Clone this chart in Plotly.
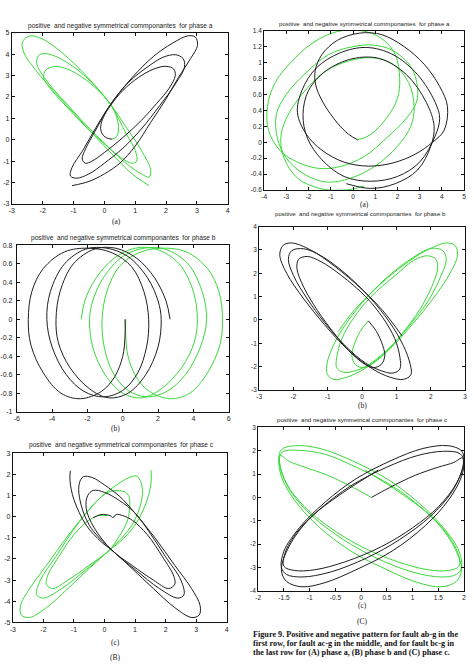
import plotly.graph_objects as go

W, H = 474, 664
BLACK = "#1e1e1e"
GREEN = "#3ad83a"

# ---------------- data ----------------
# Left column, top: phase a
Aa_pos_x = [0.25, 0.05, -0.08, -0.12, -0.03, 0.2, 0.6, 1.1, 1.6, 2.0, 2.25, 2.3, 2.1, 1.7, 1.2, 0.6, 0.0, -0.4, -0.62, -0.72, -0.6, -0.3, 0.2, 0.8, 1.4, 1.9, 2.3, 2.55, 2.6, 2.3, 1.8, 1.2, 0.6, 0.0, -0.5, -0.9, -1.1, -1.05, -0.7, -0.3, 0.2, 0.9, 1.6, 2.2, 2.7, 2.95, 3.02, 2.8, 2.4, 2.0, 1.5, 1.0, 0.5, 0.0, -0.5, -1.05]
Aa_pos_y = [0.02, 0.1, 0.3, 0.6, 1.05, 1.6, 2.3, 2.9, 3.3, 3.43, 3.3, 3.0, 2.4, 1.7, 0.9, 0.1, -0.6, -1.0, -1.1, -0.9, -0.4, 0.4, 1.65, 2.7, 3.4, 3.85, 3.97, 3.8, 3.4, 2.6, 1.6, 0.5, -0.4, -1.1, -1.6, -1.8, -1.7, -1.3, -0.5, 0.5, 1.65, 2.9, 3.9, 4.5, 4.85, 4.8, 4.4, 3.8, 2.9, 1.9, 0.8, -0.3, -1.1, -1.6, -1.95, -2.15]
Aa_neg_x = [0.25, 0.4, 0.46, 0.4, 0.2, -0.2, -0.7, -1.2, -1.6, -1.9, -1.97, -1.7, -1.2, -0.6, 0.0, 0.5, 0.9, 1.05, 1.0, 0.7, 0.2, -0.5, -1.2, -1.8, -2.1, -2.2, -1.9, -1.3, -0.6, 0.1, 0.7, 1.2, 1.45, 1.5, 1.2, 0.7, 0.2, -0.6, -1.4, -2.0, -2.4, -2.65, -2.62, -2.2, -1.6, -0.9, -0.2, 0.4, 0.9, 1.45]
Aa_neg_y = [0.02, 0.15, 0.5, 1.05, 1.65, 2.3, 2.9, 3.3, 3.42, 3.25, 2.9, 2.3, 1.5, 0.6, -0.2, -0.8, -1.1, -1.0, -0.5, 0.3, 1.65, 2.8, 3.6, 4.0, 3.97, 3.6, 2.8, 1.8, 0.7, -0.3, -1.1, -1.6, -1.75, -1.4, -0.5, 0.6, 1.65, 3.0, 4.1, 4.7, 4.85, 4.6, 4.1, 3.2, 2.2, 1.1, 0.0, -0.9, -1.6, -2.15]

# Right column, top: phase a
Ca_pos_x = [0.21, -0.2, -0.7, -1.35, -1.68, -1.7, -1.4, -0.7, 0.3, 1.3, 2.3, 3.2, 3.9, 4.25, 4.1, 3.58, 2.8, 1.8, 0.7, -0.4, -1.4, -2.1, -2.5, -2.3, -1.66, -0.6, 0.6, 1.8, 2.9, 3.7, 3.9, 3.7, 3.0, 2.0, 0.8, -0.4, -1.4, -2.05, -2.25, -2.0, -1.2, 0.0, 1.2, 2.4, 3.3, 3.65, 3.5, 2.9, 1.9, 0.8, -0.3]
Ca_pos_y = [0.03, 0.1, 0.24, 0.5, 0.72, 0.9, 1.1, 1.28, 1.37, 1.35, 1.2, 0.98, 0.7, 0.45, 0.15, 0.0, -0.15, -0.26, -0.3, -0.25, -0.1, 0.1, 0.37, 0.65, 0.93, 1.12, 1.19, 1.1, 0.85, 0.5, 0.3, 0.08, -0.25, -0.43, -0.49, -0.43, -0.22, 0.05, 0.35, 0.65, 0.9, 1.05, 1.05, 0.85, 0.5, 0.2, -0.05, -0.35, -0.52, -0.58, -0.52]
Ca_neg_x = [0.21, 0.76, 1.5, 2.0, 2.1, 1.9, 1.3, 0.4, -0.7, -1.8, -2.8, -3.5, -3.85, -3.8, -3.3, -2.5, -1.5, -0.5, 0.5, 1.5, 2.4, 2.85, 2.9, 2.6, 1.8, 0.9, 0.0, -1.1, -2.2, -3.0, -3.45, -3.4, -3.0, -2.2, -1.2, -0.1, 1.0, 2.0, 2.6, 2.75, 2.5, 1.8, 0.9, -0.2, -1.3, -2.3, -3.0, -3.25, -3.1, -2.5, -1.5, -0.3, 0.5]
Ca_neg_y = [0.03, 0.09, 0.3, 0.55, 0.8, 1.1, 1.3, 1.4, 1.39, 1.25, 1.0, 0.75, 0.45, 0.15, -0.1, -0.25, -0.33, -0.3, -0.18, 0.05, 0.3, 0.5, 0.7, 0.95, 1.15, 1.22, 1.2, 1.1, 0.85, 0.6, 0.35, 0.05, -0.2, -0.4, -0.5, -0.45, -0.3, -0.05, 0.2, 0.45, 0.75, 0.98, 1.06, 1.02, 0.88, 0.6, 0.3, 0.05, -0.2, -0.45, -0.58, -0.6, -0.55]

# Left column, middle: phase b
Ab_pos_x = [0.13, 0.13, 0.0, -0.45, -1.2, -2.4, -3.5, -4.5, -5.2, -5.35, -5.15, -4.5, -3.3, -1.9, -0.6, 0.5, 1.2, 1.47, 1.35, 0.85, 0.0, -1.1, -2.2, -3.2, -4.0, -4.3, -4.1, -3.3, -2.1, -0.9, 0.3, 1.4, 2.0, 2.18, 2.0, 1.3, 0.3, -0.8, -1.9, -3.0, -3.65, -3.78, -3.55, -2.8, -1.6, -0.4, 0.8, 1.8, 2.45, 2.68]
Ab_pos_y = [0.0, -0.18, -0.4, -0.62, -0.78, -0.86, -0.8, -0.58, -0.28, 0.0, 0.3, 0.55, 0.73, 0.77, 0.72, 0.57, 0.3, 0.0, -0.3, -0.58, -0.77, -0.84, -0.78, -0.6, -0.3, 0.0, 0.3, 0.6, 0.76, 0.77, 0.68, 0.45, 0.2, 0.0, -0.3, -0.6, -0.8, -0.85, -0.75, -0.52, -0.25, 0.0, 0.3, 0.6, 0.76, 0.77, 0.66, 0.45, 0.2, 0.0]
Ab_neg_x = [0.17, 0.17, 0.3, 0.75, 1.5, 2.7, 3.8, 4.8, 5.5, 5.65, 5.45, 4.8, 3.6, 2.2, 0.9, -0.2, -0.9, -1.17, -1.05, -0.55, 0.3, 1.4, 2.5, 3.55, 4.4, 4.75, 4.5, 3.7, 2.4, 1.2, 0.0, -1.1, -1.7, -1.88, -1.7, -1.0, 0.0, 1.1, 2.2, 3.35, 4.05, 4.23, 4.0, 3.2, 1.9, 0.7, -0.5, -1.5, -2.15, -2.35]
Ab_neg_y = [0.0, -0.18, -0.4, -0.62, -0.78, -0.86, -0.8, -0.58, -0.28, 0.0, 0.3, 0.55, 0.73, 0.77, 0.72, 0.57, 0.3, 0.0, -0.3, -0.58, -0.77, -0.84, -0.78, -0.6, -0.3, 0.0, 0.3, 0.6, 0.76, 0.77, 0.68, 0.45, 0.2, 0.0, -0.3, -0.6, -0.8, -0.85, -0.75, -0.52, -0.25, 0.0, 0.3, 0.6, 0.76, 0.77, 0.66, 0.45, 0.2, 0.0]

# Right column, middle: phase b
Cb_pos_x = [0.18, 0.42, 0.6, 0.66, 0.55, 0.32, 0.1, -0.3, -0.8, -1.3, -1.7, -1.9, -1.85, -1.6, -1.2, -0.6, 0.1, 0.6, 0.95, 1.1, 1.1, 0.9, 0.5, 0.1, -0.5, -1.1, -1.6, -2.0, -2.15, -2.05, -1.7, -1.2, -0.5, 0.2, 0.8, 1.2, 1.4, 1.42, 1.2, 0.8, 0.3, -0.4, -1.1, -1.7, -2.2, -2.4, -2.3, -2.05, -1.5, -0.8, 0.0, 0.6, 1.16]
Cb_pos_y = [-0.04, -0.5, -1.1, -1.55, -1.92, -2.05, -1.92, -1.45, -0.6, 0.4, 1.4, 2.2, 2.6, 2.72, 2.5, 1.9, 1.0, 0.1, -0.8, -1.6, -2.1, -2.28, -2.15, -1.85, -1.1, -0.1, 0.9, 1.9, 2.6, 2.97, 3.05, 2.75, 2.0, 1.0, -0.1, -1.1, -1.9, -2.35, -2.55, -2.45, -2.1, -1.3, -0.2, 0.9, 2.0, 2.8, 3.2, 3.3, 3.0, 2.3, 1.3, 0.4, -0.68]
Cb_neg_x = [0.18, -0.06, -0.24, -0.3, -0.19, 0.04, 0.26, 0.66, 1.16, 1.66, 2.02, 2.2, 2.15, 1.9, 1.5, 0.96, 0.26, -0.24, -0.59, -0.74, -0.74, -0.54, -0.14, 0.26, 0.86, 1.46, 1.96, 2.3, 2.45, 2.35, 2.02, 1.56, 0.86, 0.16, -0.44, -0.84, -1.02, -1.02, -0.84, -0.44, 0.06, 0.76, 1.46, 2.06, 2.56, 2.78, 2.7, 2.45, 1.9, 1.16, 0.36, -0.24, -0.7]
Cb_neg_y = [-0.04, -0.5, -1.1, -1.55, -1.92, -2.05, -1.92, -1.45, -0.6, 0.4, 1.4, 2.2, 2.6, 2.75, 2.55, 1.9, 1.0, 0.1, -0.8, -1.6, -2.05, -2.25, -2.15, -1.85, -1.1, -0.1, 0.9, 1.9, 2.6, 2.97, 3.07, 2.75, 2.0, 1.0, -0.1, -1.1, -1.85, -2.3, -2.55, -2.45, -2.1, -1.3, -0.2, 0.9, 2.0, 2.8, 3.2, 3.3, 3.0, 2.3, 1.3, 0.4, -0.5]

# Left column, bottom: phase c
Ac_pos_x = [-1.12, -1.13, -1.0, -0.6, -0.1, 0.23, 0.9, 1.6, 2.3, 2.86, 3.1, 3.13, 2.85, 2.3, 1.65, 0.98, 0.5, 0.0, -0.4, -0.69, -0.82, -0.82, -0.5, 0.23, 1.0, 1.8, 2.4, 2.6, 2.5, 2.0, 1.5, 0.98, 0.5, 0.0, -0.37, -0.55, -0.6, -0.35, 0.23, 0.9, 1.6, 2.1, 2.3, 2.27, 1.9, 1.4, 0.92, 0.6, 0.38, 0.28, 0.18, -0.11, -0.37]
Ac_pos_y = [2.17, 1.7, 0.8, -0.4, -1.2, -1.57, -2.45, -3.4, -4.3, -4.77, -4.65, -4.2, -3.4, -2.3, -1.0, 0.2, 0.95, 1.5, 1.85, 1.89, 1.6, 0.9, -0.4, -1.57, -2.5, -3.4, -3.85, -3.7, -3.0, -1.9, -0.8, 0.2, 0.75, 1.15, 1.24, 1.0, 0.4, -0.5, -1.57, -2.3, -3.0, -3.4, -3.2, -2.82, -1.9, -0.85, -0.18, 0.05, 0.1, -0.04, 0.05, 0.1, -0.05]
Ac_neg_x = [1.52, 1.53, 1.4, 1.0, 0.5, 0.17, -0.5, -1.2, -1.9, -2.46, -2.72, -2.75, -2.45, -1.9, -1.25, -0.58, -0.1, 0.4, 0.8, 1.05, 1.2, 1.23, 0.9, 0.17, -0.6, -1.4, -2.0, -2.22, -2.1, -1.6, -1.1, -0.58, -0.2, 0.02, 0.28, 0.67, 0.8, 0.83, 0.75, 0.45, 0.17, -0.5, -1.2, -1.7, -1.9, -1.87, -1.5, -1.0, -0.52, -0.2, 0.1]
Ac_neg_y = [2.2, 1.7, 0.8, -0.4, -1.2, -1.57, -2.45, -3.4, -4.3, -4.77, -4.65, -4.2, -3.4, -2.3, -1.0, 0.2, 0.95, 1.5, 1.85, 1.92, 1.6, 0.9, -0.4, -1.57, -2.5, -3.4, -3.85, -3.7, -3.0, -1.9, -0.8, 0.2, 0.8, 1.08, 1.22, 1.17, 0.95, 0.6, -0.2, -1.0, -1.57, -2.3, -3.0, -3.4, -3.2, -2.82, -1.9, -0.85, -0.18, 0.05, 0.05]

# Right column, bottom: phase c
Cc_pos_x = [0.2, 0.55, 1.05, 1.5, 1.8, 1.97, 1.98, 1.85, 1.5, 1.0, 0.4, -0.3, -0.9, -1.3, -1.5, -1.48, -1.25, -0.8, -0.2, 0.5, 1.1, 1.6, 1.9, 1.99, 1.95, 1.75, 1.35, 0.75, 0.1, -0.6, -1.15, -1.45, -1.55, -1.5, -1.2, -0.7, -0.1, 0.6, 1.2, 1.69, 1.95, 2.0, 1.95, 1.7, 1.25, 0.6, -0.1, -0.7, -1.15, -1.45, -1.55, -1.4, -1.0, -0.41, 0.33]
Cc_pos_y = [0.0, 0.42, 0.95, 1.3, 1.5, 1.7, 1.35, 0.6, -0.4, -1.3, -2.1, -2.75, -3.1, -3.13, -2.95, -2.4, -1.5, -0.5, 0.5, 1.3, 1.8, 1.98, 1.9, 1.65, 1.1, 0.2, -0.8, -1.8, -2.6, -3.2, -3.41, -3.3, -3.0, -2.3, -1.3, -0.2, 0.8, 1.6, 2.1, 2.22, 2.0, 1.6, 0.9, -0.1, -1.2, -2.3, -3.1, -3.65, -3.83, -3.6, -3.1, -2.1, -0.9, 0.12, 1.17]
Cc_neg_x = [0.2, -0.15, -0.65, -1.1, -1.4, -1.57, -1.58, -1.45, -1.1, -0.6, 0.0, 0.7, 1.3, 1.7, 1.9, 1.88, 1.65, 1.2, 0.6, -0.1, -0.7, -1.2, -1.5, -1.59, -1.55, -1.35, -0.95, -0.35, 0.3, 1.0, 1.55, 1.85, 1.95, 1.9, 1.6, 1.1, 0.5, -0.2, -0.8, -1.29, -1.55, -1.6, -1.55, -1.3, -0.85, -0.2, 0.5, 1.1, 1.55, 1.85, 1.95, 1.8, 1.4, 0.81, 0.07]
Cc_neg_y = [0.0, 0.42, 0.95, 1.3, 1.55, 1.8, 1.45, 0.6, -0.4, -1.3, -2.1, -2.75, -3.1, -3.13, -2.95, -2.4, -1.5, -0.5, 0.5, 1.3, 1.85, 2.02, 1.98, 1.75, 1.1, 0.2, -0.8, -1.8, -2.6, -3.2, -3.41, -3.3, -3.0, -2.3, -1.3, -0.2, 0.8, 1.6, 2.1, 2.22, 2.05, 1.65, 0.9, -0.1, -1.2, -2.3, -3.1, -3.65, -3.83, -3.6, -3.1, -2.1, -0.9, 0.12, 1.17]

# tick values
ticks_Aa_x = [-3, -2, -1, 0, 1, 2, 3, 4]
ticks_Aa_y = [-3, -2, -1, 0, 1, 2, 3, 4, 5]
ticks_Ca_x = [-4, -3, -2, -1, 0, 1, 2, 3, 4, 5]
ticks_Ca_y = [-0.6, -0.4, -0.2, 0, 0.2, 0.4, 0.6, 0.8, 1, 1.2, 1.4]
ticks_Ab_x = [-6, -4, -2, 0, 2, 4, 6]
ticks_Ab_y = [-1, -0.8, -0.6, -0.4, -0.2, 0, 0.2, 0.4, 0.6, 0.8]
ticks_Cb_x = [-3, -2, -1, 0, 1, 2, 3]
ticks_Cb_y = [-3, -2, -1, 0, 1, 2, 3, 4]
ticks_Ac_x = [-3, -2, -1, 0, 1, 2, 3, 4]
ticks_Ac_y = [-5, -4, -3, -2, -1, 0, 1, 2, 3]
ticks_Cc_x = [-2, -1.5, -1, -0.5, 0, 0.5, 1, 1.5, 2]
ticks_Cc_y = [-4, -3, -2, -1, 0, 1, 2, 3]

title_base = "positive\u00a0 and negative symmetrical commponantes\u00a0 for phase "

panels = [
    # box = (left, right, top, bottom) in pixels
    dict(box=(7, 226, 29, 202), xr=[-3, 4], yr=[-3, 5], xt=ticks_Aa_x, yt=ticks_Aa_y,
         pos=(Aa_pos_x, Aa_pos_y), neg=(Aa_neg_x, Aa_neg_y), ph="a", tp=(117, 22.5), tfs=6.6, fs=7,
         lab="(a)", lp=(113, 220), ystand=0),
    dict(box=(263, 466, 27, 188), xr=[-4, 5], yr=[-0.6, 1.4], xt=ticks_Ca_x, yt=ticks_Ca_y,
         pos=(Ca_pos_x, Ca_pos_y), neg=(Ca_neg_x, Ca_neg_y), ph="a", tp=(365, 19.5), tfs=6.1, fs=6.5,
         lab="(a)", lp=(365, 202.5), ystand=0),
    dict(box=(12, 227, 244, 412), xr=[-6, 6], yr=[-1, 0.8], xt=ticks_Ab_x, yt=ticks_Ab_y,
         pos=(Ab_pos_x, Ab_pos_y), neg=(Ab_neg_x, Ab_neg_y), ph="b", tp=(120, 236.5), tfs=6.6, fs=7,
         lab="(b)", lp=(112, 429), ystand=2),
    dict(box=(258, 467, 225, 390), xr=[-3, 3], yr=[-3, 4], xt=ticks_Cb_x, yt=ticks_Cb_y,
         pos=(Cb_pos_x, Cb_pos_y), neg=(Cb_neg_x, Cb_neg_y), ph="b", tp=(361, 211.5), tfs=6.1, fs=6.5,
         lab="(b)", lp=(363, 406), ystand=0),
    dict(box=(8, 225, 454, 625), xr=[-3, 4], yr=[-5, 3], xt=ticks_Ac_x, yt=ticks_Ac_y,
         pos=(Ac_pos_x, Ac_pos_y), neg=(Ac_neg_x, Ac_neg_y), ph="c", tp=(118.5, 446), tfs=6.6, fs=7,
         lab="(c)", lp=(112, 645.5), ystand=0),
    dict(box=(257, 466, 428, 593), xr=[-2, 2], yr=[-4, 3], xt=ticks_Cc_x, yt=ticks_Cc_y,
         pos=(Cc_pos_x, Cc_pos_y), neg=(Cc_neg_x, Cc_neg_y), ph="c", tp=(362, 419.5), tfs=6.1, fs=6.5,
         lab="(c)", lp=(363, 608), ystand=0),
]

fig = go.Figure()
layout = dict(width=W, height=H, margin=dict(l=0, r=0, t=0, b=0),
              paper_bgcolor="white", plot_bgcolor="white", showlegend=False,
              annotations=[])

def px_x(p):
    return p / W

def px_y(p):
    return 1 - p / H

for i, p in enumerate(panels, start=1):
    xa = "x" if i == 1 else f"x{i}"
    ya = "y" if i == 1 else f"y{i}"
    l, r, t, b = p["box"]
    for (xs, ys), col in ((p["neg"], GREEN), (p["pos"], BLACK)):
        fig.add_trace(go.Scatter(x=xs, y=ys, mode="lines", xaxis=xa, yaxis=ya,
                                 line=dict(color=col, width=1, shape="spline", smoothing=1.0),
                                 hoverinfo="skip"))
    common = dict(showgrid=False, zeroline=False, showline=True, linecolor="#111", linewidth=1,
                  mirror="ticks", ticks="inside", ticklen=3, tickwidth=1, tickcolor="#111",
                  tickfont=dict(family="Liberation Sans, Arial", size=p["fs"], color="#222"),
                  fixedrange=True)
    layout["xaxis" if i == 1 else f"xaxis{i}"] = dict(
        common, domain=[px_x(l), px_x(r)], range=p["xr"], anchor=ya,
        tickmode="array", tickvals=p["xt"], ticktext=[f"{v:g}" for v in p["xt"]])
    layout["yaxis" if i == 1 else f"yaxis{i}"] = dict(
        common, domain=[px_y(b), px_y(t)], range=p["yr"], anchor=xa,
        tickmode="array", tickvals=p["yt"], ticktext=[f"{v:g}" for v in p["yt"]],
        ticklabelstandoff=p["ystand"])
    layout["annotations"].append(dict(
        text=title_base + p["ph"], x=px_x(p["tp"][0]), y=px_y(p["tp"][1]), xref="paper", yref="paper",
        xanchor="center", yanchor="middle", showarrow=False,
        font=dict(family="Liberation Sans, Arial", size=p["tfs"], color="#222")))
    layout["annotations"].append(dict(
        text=p["lab"], x=px_x(p["lp"][0]), y=px_y(p["lp"][1]), xref="paper", yref="paper",
        xanchor="center", yanchor="middle", showarrow=False,
        font=dict(family="Liberation Serif, Times New Roman", size=7.5, color="#222")))

# column labels
for txt, (xp, yp) in (("(B)", (112, 660)), ("(C)", (363, 624))):
    layout["annotations"].append(dict(
        text=txt, x=px_x(xp), y=px_y(yp), xref="paper", yref="paper", xanchor="center",
        yanchor="middle", showarrow=False,
        font=dict(family="Liberation Serif, Times New Roman", size=7.5, color="#222")))

caption_lines = [
    "Figure 9. Positive and negative pattern for fault ab-g in the",
    "first row, for fault ac-g in the middle, and for fault bc-g in",
    "the last row for (A) phase a, (B) phase b and (C) phase c.",
]
for k, line in enumerate(caption_lines):
    layout["annotations"].append(dict(
        text=f"<b>{line}</b>", x=px_x(250), y=px_y(637.5 + 9.2 * k), xref="paper", yref="paper",
        xanchor="left", yanchor="middle", showarrow=False,
        font=dict(family="Liberation Serif, Times New Roman", size=8.2, color="#111")))

fig.update_layout(**layout)
fig.write_html("out.html", config={"displayModeBar": False})
